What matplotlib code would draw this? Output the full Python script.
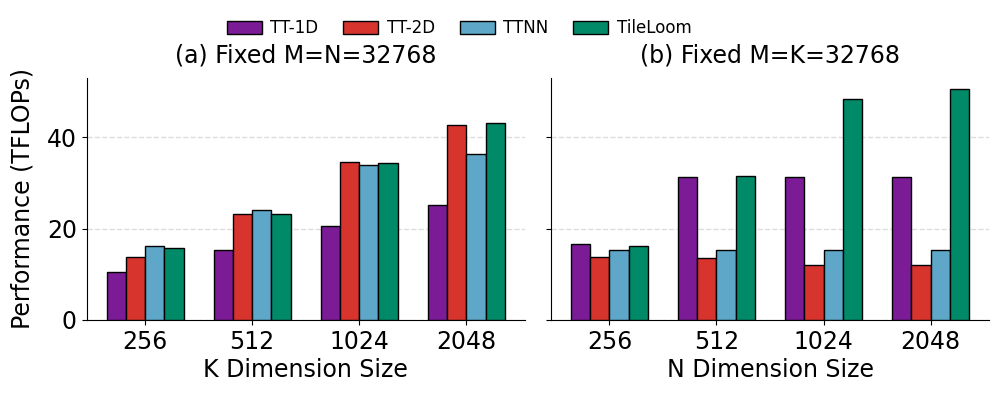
import numpy as np
import matplotlib.pyplot as plt

# data
sizes = ['256', '512', '1024', '2048']
methods = ['TT-1D', 'TT-2D', 'TTNN', 'TileLoom']
colors = ['#7b1c96', '#d6342d', '#5ea7c9', '#008a68']

# (a) fixed M=N=32768, varying K
perf_k = {
    'TT-1D':    [10.6, 15.4, 20.6, 25.2],
    'TT-2D':    [13.8, 23.1, 34.7, 42.6],
    'TTNN':     [16.1, 24.1, 34.0, 36.4],
    'TileLoom': [15.7, 23.1, 34.3, 43.1],
}
# (b) fixed M=K=32768, varying N
perf_n = {
    'TT-1D':    [16.6, 31.3, 31.4, 31.4],
    'TT-2D':    [13.8, 13.6, 12.0, 12.0],
    'TTNN':     [15.4, 15.4, 15.4, 15.4],
    'TileLoom': [16.2, 31.5, 48.5, 50.5],
}

fig, axes = plt.subplots(1, 2, figsize=(9.96, 3.94), dpi=100, sharey=True)
x = np.arange(len(sizes))
w = 0.18

panels = [
    (axes[0], perf_k, '(a) Fixed M=N=32768', 'K Dimension Size'),
    (axes[1], perf_n, '(b) Fixed M=K=32768', 'N Dimension Size'),
]
for ax, data, title, xlabel in panels:
    for i, m in enumerate(methods):
        ax.bar(x + (i - 1.5) * w, data[m], w, color=colors[i],
               edgecolor='black', linewidth=1, label=m, zorder=3)
    ax.set_xticks(x)
    ax.set_xticklabels(sizes)
    ax.set_xlabel(xlabel, fontsize=17, labelpad=3)
    ax.set_title(title, fontsize=17, pad=11)
    ax.tick_params(axis='both', labelsize=17)
    ax.yaxis.grid(True, linestyle='--', color='#dddddd', linewidth=1, zorder=0)
    ax.spines['top'].set_visible(False)
    ax.spines['right'].set_visible(False)

axes[0].set_ylim(0, 53)
axes[0].set_yticks([0, 20, 40])
axes[0].set_ylabel('Performance (TFLOPs)', fontsize=17, labelpad=9)

handles, labels = axes[0].get_legend_handles_labels()
fig.legend(handles, labels, loc='upper center', ncol=4, frameon=False,
           fontsize=12, bbox_to_anchor=(0.461, 0.99), handlelength=2.1,
           handleheight=0.8, columnspacing=1.5, handletextpad=0.5)

fig.subplots_adjust(left=0.087, right=0.993, top=0.802, bottom=0.188, wspace=0.06)
fig.savefig('out.png', dpi=100)
